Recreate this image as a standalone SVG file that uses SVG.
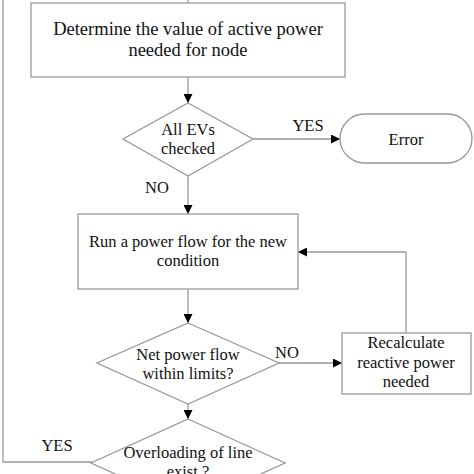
<svg xmlns="http://www.w3.org/2000/svg" width="474" height="474" viewBox="0 0 474 474">
<defs>
<marker id="arr" viewBox="0 0 10 10" refX="10" refY="5" markerWidth="10" markerHeight="9" markerUnits="userSpaceOnUse" orient="auto">
<path d="M0,0 L10,5 L0,10 z" fill="#000"/>
</marker>
</defs>
<style>
.n{fill:#fff;stroke:#999;stroke-width:1.3}
.c{fill:none;stroke:#999;stroke-width:1.3}
.a{marker-end:url(#arr)}
text{font-family:"Liberation Serif","Times New Roman",serif;font-size:16.5px;fill:#111;text-anchor:middle}
.big{font-size:18.5px}
</style>
<rect width="474" height="474" fill="#fff"/>
<g id="connectors">
<path class="c" d="M188,0 V3"/>
<path class="c a" d="M188,77 V103"/>
<path class="c a" d="M253,139 H340"/>
<path class="c a" d="M188,176 V214"/>
<path class="c a" d="M188,289 V323"/>
<path class="c a" d="M279,363 H342"/>
<path class="c a" d="M406,333 V252 H298"/>
<path class="c a" d="M188,404 V419"/>
<path class="c" d="M92,462 H3 V0"/>
<text x="308" y="131">YES</text>
<text x="157" y="193">NO</text>
<text x="287" y="358">NO</text>
<text x="57" y="451">YES</text>
</g>
<g id="determine">
<rect class="n" x="31" y="3" width="314" height="74"/>
<text class="big" x="188" y="35">Determine the value of active power</text>
<text class="big" x="188" y="56">needed for node</text>
</g>
<g id="allevs">
<polygon class="n" points="188,103 253,139 188,176 123,139"/>
<text x="188" y="135">All EVs</text>
<text x="188" y="154">checked</text>
</g>
<g id="error">
<rect class="n" x="340" y="114" width="132" height="49" rx="24.5"/>
<text x="406" y="145">Error</text>
</g>
<g id="runflow">
<rect class="n" x="78" y="214" width="220" height="75"/>
<text x="188" y="247">Run a power flow for the new</text>
<text x="188" y="266">condition</text>
</g>
<g id="netpower">
<polygon class="n" points="188,323 279,363 188,404 97,363"/>
<text x="188" y="360">Net power flow</text>
<text x="188" y="379">within limits?</text>
</g>
<g id="recalc">
<rect class="n" x="342" y="333" width="129" height="61"/>
<text x="406" y="348">Recalculate</text>
<text x="406" y="368">reactive power</text>
<text x="406" y="387">needed</text>
</g>
<g id="overload">
<polygon class="n" points="188,419 285,463 188,507 91,463"/>
<text x="188" y="458">Overloading of line</text>
<text x="188" y="477">exist ?</text>
</g>
</svg>
